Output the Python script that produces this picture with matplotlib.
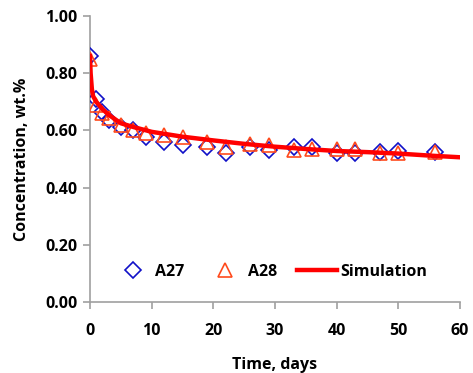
import matplotlib
matplotlib.use("Agg")
import matplotlib.pyplot as plt

plt.rcParams['font.family'] = ['Open Sans', 'DejaVu Sans']
plt.rcParams['font.weight'] = 'bold'

t_a27 = [0, 1, 2, 3, 5, 7, 9, 12, 15, 19, 22, 26, 29, 33, 36, 40, 43, 47, 50, 56]
c_a27 = [0.86, 0.71, 0.665, 0.636, 0.613, 0.601, 0.578, 0.561, 0.549, 0.543, 0.522, 0.543,
         0.531, 0.543, 0.541, 0.522, 0.520, 0.523, 0.528, 0.523]

t_a28 = [0, 1, 2, 3, 5, 7, 9, 12, 15, 19, 22, 26, 29, 33, 36, 40, 43, 47, 50, 56]
c_a28 = [0.85, 0.689, 0.66, 0.642, 0.62, 0.60, 0.59, 0.584, 0.578, 0.561, 0.543, 0.554,
         0.549, 0.531, 0.535, 0.535, 0.535, 0.52, 0.52, 0.523]

t_sim = [0, 0.1, 0.3, 0.5, 1, 2, 3, 5, 7, 10, 15, 20, 25, 30, 35, 40, 45, 50, 55, 60]
c_sim = [0.86, 0.80, 0.745, 0.72, 0.70, 0.675, 0.655, 0.625, 0.612, 0.595, 0.578, 0.565,
         0.553, 0.543, 0.535, 0.528, 0.524, 0.519, 0.512, 0.506]

FS = 11.5

fig = plt.figure(figsize=(4.73, 3.73), dpi=100)
ax = fig.add_axes([90/473, 71/373, 370/473, 286/373])

ax.plot(t_a27, c_a27, linestyle='none', marker='D', markersize=8.5, markerfacecolor='none',
        markeredgecolor='#1010C8', markeredgewidth=1.2, label='A27', zorder=3)
ax.plot(t_a28, c_a28, linestyle='none', marker='^', markersize=10, markerfacecolor='none',
        markeredgecolor='#FF4A1C', markeredgewidth=1.2, label='A28', zorder=3)
ax.plot(t_sim, c_sim, color='#FF0000', linewidth=3.2, label='Simulation', zorder=4)

ax.set_xlim(0, 60)
ax.set_ylim(0, 1.0)
ax.set_xticks(range(0, 61, 10))
ax.set_yticks([0, 0.2, 0.4, 0.6, 0.8, 1.0])
ax.set_yticklabels(['0.00', '0.20', '0.40', '0.60', '0.80', '1.00'])
for s in ['top', 'right']:
    ax.spines[s].set_visible(False)
for s in ['left', 'bottom']:
    ax.spines[s].set_color('#A0A0A0')
    ax.spines[s].set_linewidth(1.2)
ax.tick_params(axis='both', direction='out', length=5, width=1.2, color='#A0A0A0',
               labelsize=FS, pad=4)
ax.tick_params(axis='x', pad=10)
for lab in ax.get_xticklabels() + ax.get_yticklabels():
    lab.set_fontweight('bold')

ax.set_xlabel('Time, days', fontsize=FS, fontweight='bold', labelpad=13)
ax.set_ylabel('Concentration, wt.%', fontsize=FS, fontweight='bold', labelpad=11)

leg = ax.legend(loc='center', bbox_to_anchor=(0.486, 30/286), ncol=3, frameon=False,
                handlelength=2.5, columnspacing=1.3, handletextpad=0.15,
                prop={'weight': 'bold', 'size': FS})

fig.savefig('out.png', dpi=100)
